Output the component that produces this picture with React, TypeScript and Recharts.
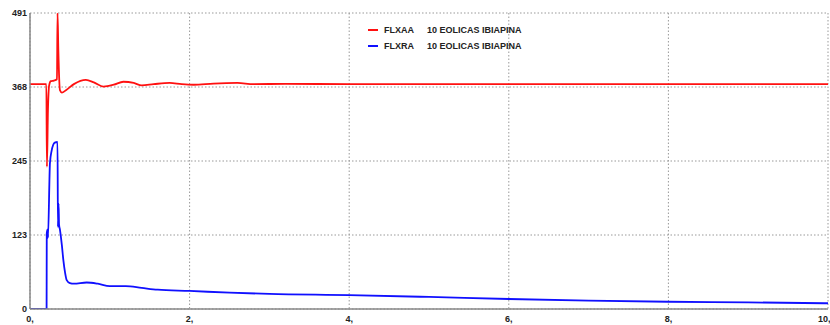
import { LineChart, Line, XAxis, YAxis, CartesianGrid } from "recharts";

// FLXAA (red) - time in seconds, value
const flxaaTime = [0, 0.205, 0.212, 0.225, 0.24, 0.26, 0.3, 0.338, 0.345, 0.355, 0.375, 0.4, 0.45, 0.55, 0.7, 0.8, 0.92, 1.05, 1.17, 1.3, 1.4, 1.55, 1.75, 1.9, 2.05, 2.3, 2.6, 2.8, 3.2, 4, 6, 8, 10];
const flxaaValue = [373, 373, 236, 330, 371, 378, 379, 381, 491, 430, 363, 359, 363, 373, 380, 376, 369, 372, 377, 375, 371, 373, 375, 373, 372, 374, 375, 373, 373.5, 373, 373, 373, 373];

// FLXRA (blue)
const flxraTime = [0, 0.208, 0.21, 0.222, 0.225, 0.25, 0.27, 0.29, 0.31, 0.345, 0.35, 0.358, 0.364, 0.376, 0.4, 0.418, 0.44, 0.46, 0.5, 0.55, 0.71, 0.85, 1.0, 1.2, 1.4, 1.6, 2.0, 2.5, 3, 4, 5, 6, 7, 8, 9, 10];
const flxraValue = [0, 0, 126, 132, 118, 242, 262, 272, 276, 277, 136, 175, 140, 131, 105, 81, 60, 48, 43, 42, 44, 42, 38, 38, 35, 32, 30, 27, 25, 23, 20, 16.6, 14, 12, 11, 9.5];

const xTicks = [0, 2, 4, 6, 8, 10];
const yTicks = [0, 122.75, 245.5, 368.25, 491];
const yLabels = ["0", "123", "245", "368", "491"];

const seriesNames = ["FLXAA", "FLXRA"];
const seriesColors = ["#ff1010", "#1010ff"];
const seriesDesc = "10 EOLICAS IBIAPINA";

const redData = flxaaTime.map((t, i) => ({ t, v: flxaaValue[i] }));
const blueData = flxraTime.map((t, i) => ({ t, v: flxraValue[i] }));

const font = "'Liberation Sans', Arial, sans-serif";
const tickStyle = { fontSize: 9, fontWeight: 700, fill: "#222", fontFamily: font };

export default function App() {
  return (
    <div style={{ position: "absolute", left: 0, top: 0, width: 830, height: 325, background: "#fff" }}>
      <LineChart width={830} height={325} margin={{ top: 13, right: 2, left: 0, bottom: 0 }}>
        <CartesianGrid stroke="#999" strokeDasharray="1.5 2" />
        <XAxis
          type="number"
          dataKey="t"
          domain={[0, 10]}
          ticks={xTicks}
          tickFormatter={(v) => `${v},`}
          axisLine={{ stroke: "#888", strokeWidth: 1.5 }}
          tickLine={false}
          tickSize={0}
          tickMargin={7}
          height={16}
          tick={tickStyle}
          allowDataOverflow
        />
        <YAxis
          type="number"
          domain={[0, 491]}
          ticks={yTicks}
          tickFormatter={(v) => yLabels[yTicks.indexOf(v)] ?? ""}
          axisLine={{ stroke: "#888", strokeWidth: 1.5 }}
          tickLine={false}
          tickSize={0}
          tickMargin={3}
          width={30}
          tick={tickStyle}
          allowDataOverflow
        />
        <Line data={redData} dataKey="v" name="FLXAA" stroke={seriesColors[0]} strokeWidth={1.8} dot={false} type="monotone" isAnimationActive={false} />
        <Line data={blueData} dataKey="v" name="FLXRA" stroke={seriesColors[1]} strokeWidth={1.8} dot={false} type="monotone" isAnimationActive={false} />
      </LineChart>
      {/* legend */}
      <div style={{ position: "absolute", top: 22, left: 368, fontFamily: font, fontSize: 9, fontWeight: 700, color: "#222" }}>
        {seriesNames.map((n, i) => (
          <div key={n} style={{ display: "flex", alignItems: "center", height: 16 }}>
            <div style={{ width: 10, height: 2, background: seriesColors[i], marginRight: 6 }} />
            <span style={{ width: 43 }}>{n}</span>
            <span>{seriesDesc}</span>
          </div>
        ))}
      </div>
    </div>
  );
}
